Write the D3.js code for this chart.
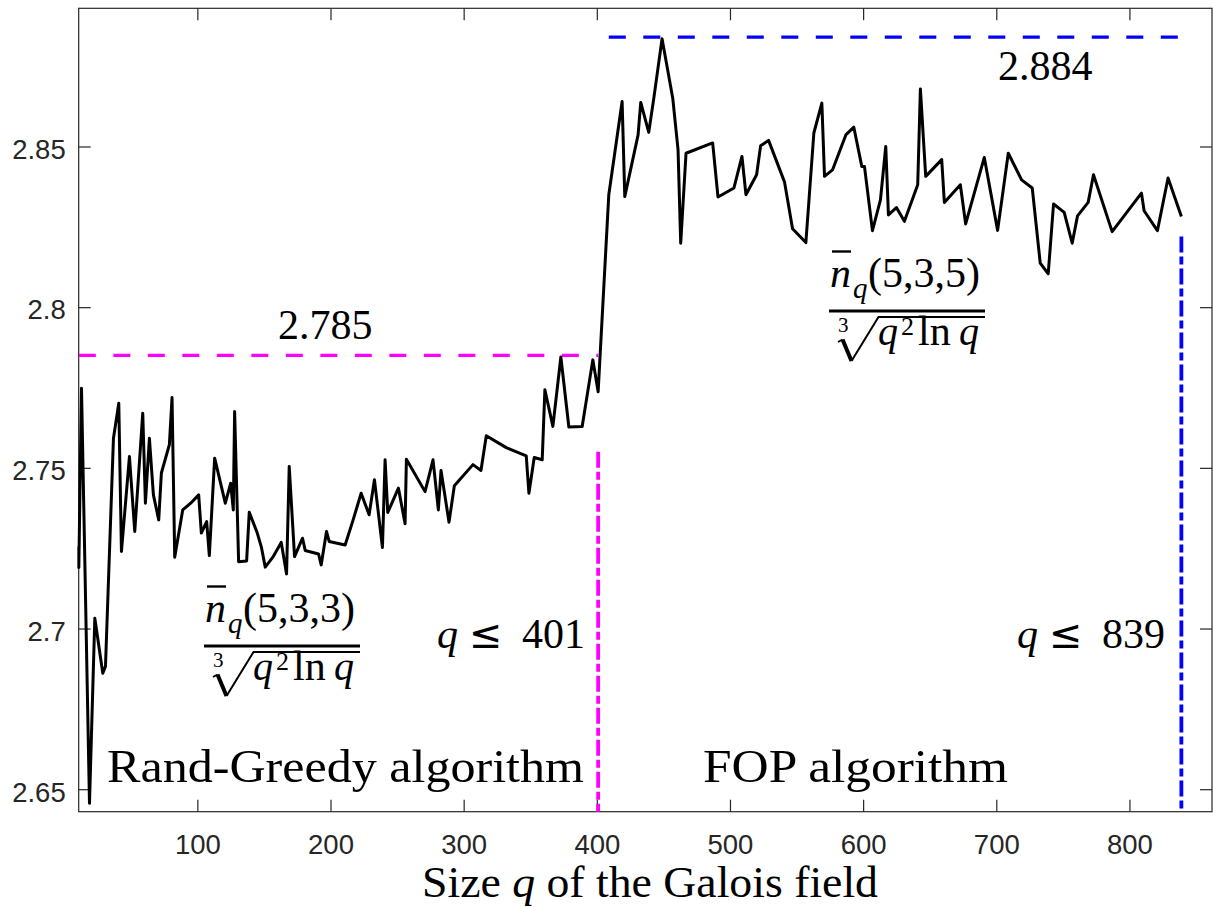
<!DOCTYPE html>
<html>
<head>
<meta charset="utf-8">
<script src="https://cdn.jsdelivr.net/npm/d3@7"></script>
<style>
  html, body { margin: 0; padding: 0; background: #fff; }
  svg { display: block; }
  .tick text { font-family: "Liberation Sans", Arial, sans-serif; font-size: 27.5px; fill: #262626; }
  .serif { font-family: "Liberation Serif", "Times New Roman", serif; fill: #000; }
</style>
</head>
<body>
<script>
// Normalised bound n̄_q / cbrt(q^2 ln q) against the field size q

// Rand-Greedy algorithm, q <= 401
const greedyQ = [11, 11, 13, 19, 23, 29, 31, 37, 41, 43, 49, 53, 59, 61, 64, 67, 71, 73, 79, 81,
  83, 89, 95, 101, 103, 107, 109, 113, 121, 125, 127, 128, 131, 137, 139, 145, 148, 151, 157, 163,
  167, 169, 173, 179, 181, 191, 193, 197, 199, 211, 217, 223, 229, 233, 239, 241, 243, 251, 256, 257,
  271, 277, 281, 283, 289, 293, 307, 313, 317, 332, 347, 349, 353, 359, 361, 367, 373, 379, 389, 397, 401];
const greedyRatio = [2.7255, 2.7190, 2.7748, 2.6456, 2.7032, 2.6861, 2.6882, 2.7592, 2.7701, 2.7240,
  2.7535, 2.7302, 2.7670, 2.7390, 2.7592, 2.7416, 2.7338, 2.7484, 2.7572, 2.7719,
  2.7222, 2.7369, 2.7390, 2.7416, 2.7297, 2.7333, 2.7227, 2.7530, 2.7390, 2.7452,
  2.7369, 2.7675, 2.7208, 2.7210, 2.7362, 2.7297, 2.7255, 2.7191, 2.7224, 2.7268,
  2.7170, 2.7504, 2.7224, 2.7281, 2.7243, 2.7232, 2.7198, 2.7302, 2.7271, 2.7260,
  2.7338, 2.7421, 2.7354, 2.7463, 2.7252, 2.7525, 2.7361, 2.7437, 2.7326, 2.7527,
  2.7426, 2.7525, 2.7369, 2.7492, 2.7331, 2.7444, 2.7510, 2.7492, 2.7600, 2.7563,
  2.7537, 2.7421, 2.7532, 2.7525, 2.7743, 2.7629, 2.7845, 2.7627, 2.7629, 2.7836, 2.7737];

// FOP algorithm, 401 < q <= 839
const fopQ = [409, 419, 421, 431, 433, 439, 443, 449, 457, 461, 463, 467, 487, 491, 503, 509, 512, 520,
  523, 529, 541, 547, 557, 563, 569, 571, 577, 587, 593, 599, 601, 607, 613, 617, 619, 625, 631, 641,
  643, 647, 659, 661, 673, 677, 691, 701, 709, 719, 727, 733, 739, 743, 751, 757, 761, 769, 773, 787,
  809, 811, 821, 829, 839];
const fopRatio = [2.8350, 2.8640, 2.8344, 2.8536, 2.8637, 2.8544, 2.8656, 2.8835, 2.8651, 2.8490,
  2.8199, 2.8479, 2.8511, 2.8343, 2.8371, 2.8469, 2.8350, 2.8412, 2.8502, 2.8519,
  2.8389, 2.8244, 2.8201, 2.8542, 2.8635, 2.8407, 2.8427, 2.8536, 2.8560, 2.8438,
  2.8438, 2.8238, 2.8334, 2.8500, 2.8287, 2.8310, 2.8267, 2.8381, 2.8679, 2.8407,
  2.8459, 2.8326, 2.8381, 2.8259, 2.8466, 2.8239, 2.8479, 2.8396, 2.8371, 2.8137,
  2.8104, 2.8321, 2.8295, 2.8199, 2.8284, 2.8326, 2.8412, 2.8235, 2.8355, 2.8300,
  2.8238, 2.8402, 2.8282];

// Reference levels and range limits
const greedyMax = 2.785, fopMax = 2.884;
const greedyStart = 11, greedyLimit = 401;
const fopStart = 409, fopLimit = 839;
const greedyMarkerTop = 2.755, fopMarkerTop = 2.822;

// Axis ticks
const xTicks = [100, 200, 300, 400, 500, 600, 700, 800];
const xTickLabels = ["100", "200", "300", "400", "500", "600", "700", "800"];
const yTicks = [2.65, 2.7, 2.75, 2.8, 2.85];
const yTickLabels = ["2.65", "2.7", "2.75", "2.8", "2.85"];

const W = 1213, H = 907;
const plot = { left: 78.7, right: 1212, top: 8.3, bottom: 811.7 };

const x = d3.scaleLinear().domain([10.9, 862]).range([plot.left, plot.right]);
const y = d3.scaleLinear().domain([2.643, 2.893]).range([plot.bottom, plot.top]);

const svg = d3.select("body").append("svg").attr("width", W).attr("height", H);

const axisColor = "#262626";

// Axes with inward ticks on all four sides
const gx = svg.append("g").attr("transform", `translate(0,${plot.bottom})`)
  .call(d3.axisBottom(x).tickValues(xTicks).tickFormat((d, i) => xTickLabels[i])
    .tickSize(-12).tickSizeOuter(0).tickPadding(22.6));
const gxt = svg.append("g").attr("transform", `translate(0,${plot.top})`)
  .call(d3.axisTop(x).tickValues(xTicks).tickFormat("").tickSize(-12).tickSizeOuter(0));
const gy = svg.append("g").attr("transform", `translate(${plot.left},0)`)
  .call(d3.axisLeft(y).tickValues(yTicks).tickFormat((d, i) => yTickLabels[i])
    .tickSize(-12).tickSizeOuter(0).tickPadding(13));
const gyr = svg.append("g").attr("transform", `translate(${plot.right},0)`)
  .call(d3.axisRight(y).tickValues(yTicks).tickFormat("").tickSize(-12).tickSizeOuter(0));

[gx, gxt, gy, gyr].forEach(g => {
  g.select(".domain").remove();
  g.selectAll(".tick line").attr("stroke", axisColor).attr("stroke-width", 1.2);
});
gy.selectAll(".tick text").attr("dy", "0.43em");

svg.append("rect")
  .attr("x", plot.left).attr("y", plot.top)
  .attr("width", plot.right - plot.left).attr("height", plot.bottom - plot.top)
  .attr("fill", "none").attr("stroke", axisColor).attr("stroke-width", 1.2);

// Reference lines
const magenta = "#ff00ff", blue = "#0000ff";
const dashed = "17,17.5", dashDot = "16,4,8,4";

svg.append("line")
  .attr("x1", x(greedyStart)).attr("x2", x(greedyLimit))
  .attr("y1", y(greedyMax)).attr("y2", y(greedyMax))
  .attr("stroke", magenta).attr("stroke-width", 3.2).attr("stroke-dasharray", dashed);
svg.append("line")
  .attr("x1", x(fopStart)).attr("x2", x(fopLimit))
  .attr("y1", y(fopMax)).attr("y2", y(fopMax))
  .attr("stroke", blue).attr("stroke-width", 3.2).attr("stroke-dasharray", dashed);
svg.append("line")
  .attr("x1", x(greedyLimit)).attr("x2", x(greedyLimit))
  .attr("y1", y(greedyMarkerTop)).attr("y2", y.range()[0])
  .attr("stroke", magenta).attr("stroke-width", 3.8).attr("stroke-dasharray", dashDot);
svg.append("line")
  .attr("x1", x(fopLimit)).attr("x2", x(fopLimit))
  .attr("y1", y(fopMarkerTop)).attr("y2", y.range()[0])
  .attr("stroke", blue).attr("stroke-width", 3.8).attr("stroke-dasharray", dashDot);

// Data curve (both algorithms joined)
const series = greedyQ.map((q, i) => [q, greedyRatio[i]])
  .concat(fopQ.map((q, i) => [q, fopRatio[i]]));
svg.append("path")
  .datum(series)
  .attr("fill", "none").attr("stroke", "#000").attr("stroke-width", 3)
  .attr("stroke-linejoin", "round")
  .attr("d", d3.line().x(d => x(d[0])).y(d => y(d[1])));

// Text annotations
const fmt3 = d3.format(".3f");
svg.append("text").attr("class", "serif").attr("x", 278).attr("y", 339)
  .attr("font-size", 42).text(fmt3(greedyMax));
svg.append("text").attr("class", "serif").attr("x", 998).attr("y", 80)
  .attr("font-size", 42).text(fmt3(fopMax));

function bound(xr, limit) {
  const t = svg.append("text").attr("class", "serif").attr("y", 648).attr("font-size", 42);
  t.append("tspan").attr("x", xr - 148).attr("font-style", "italic").text("q");
  t.append("tspan").attr("x", xr - 116).attr("font-family", "DejaVu Sans")
    .attr("font-size", 40).text("\u2264");
  t.append("tspan").attr("x", xr - 63).text(String(limit));
}
bound(585, greedyLimit);
bound(1165, fopLimit);

function fraction(x0, y0, args) {
  const g = svg.append("g").attr("transform", `translate(${x0},${y0})`);
  const txt = (tx, ty, s, size, italic) => g.append("text").attr("class", "serif")
    .attr("x", tx).attr("y", ty).attr("font-size", size)
    .attr("font-style", italic ? "italic" : "normal").text(s);
  // numerator
  g.append("line").attr("x1", 3).attr("x2", 22).attr("y1", -59.5).attr("y2", -59.5)
    .attr("stroke", "#000").attr("stroke-width", 2.4);
  txt(1, -24.3, "n", 42, true);
  txt(24, -13, "q", 29, true);
  txt(39, -24.3, args, 42, false);
  // fraction bar
  g.append("line").attr("x1", 0).attr("x2", 156).attr("y1", 0).attr("y2", 0)
    .attr("stroke", "#000").attr("stroke-width", 3);
  // denominator: cube root of q^2 ln q
  txt(9, 21, "3", 21, false);
  g.append("path").attr("d", "M9,31 L13.5,28.5").attr("stroke", "#000").attr("stroke-width", 1.8).attr("fill", "none");
  g.append("path").attr("d", "M13.5,28.5 L22.5,50").attr("stroke", "#000").attr("stroke-width", 4).attr("fill", "none");
  g.append("path").attr("d", "M22.5,50 L49.5,6 L156,6").attr("stroke", "#000").attr("stroke-width", 2)
    .attr("fill", "none").attr("stroke-linejoin", "miter");
  txt(49, 34, "q", 40, true);
  txt(72, 24, "2", 26, false);
  txt(89, 34, "ln", 42, false);
  txt(130, 34, "q", 40, true);
}
fraction(204, 646, "(5,3,3)");
fraction(829, 311, "(5,3,5)");

svg.append("text").attr("class", "serif").attr("x", 107).attr("y", 782)
  .attr("font-size", 46).attr("textLength", 477).attr("lengthAdjust", "spacingAndGlyphs")
  .text("Rand-Greedy algorithm");
svg.append("text").attr("class", "serif").attr("x", 703).attr("y", 782)
  .attr("font-size", 46).attr("textLength", 305).attr("lengthAdjust", "spacingAndGlyphs")
  .text("FOP algorithm");

const xl = svg.append("text").attr("class", "serif").attr("x", 422).attr("y", 897)
  .attr("font-size", 45).attr("textLength", 456).attr("lengthAdjust", "spacingAndGlyphs");
xl.append("tspan").text("Size ");
xl.append("tspan").attr("font-style", "italic").text("q");
xl.append("tspan").text(" of the Galois field");
</script>
</body>
</html>
